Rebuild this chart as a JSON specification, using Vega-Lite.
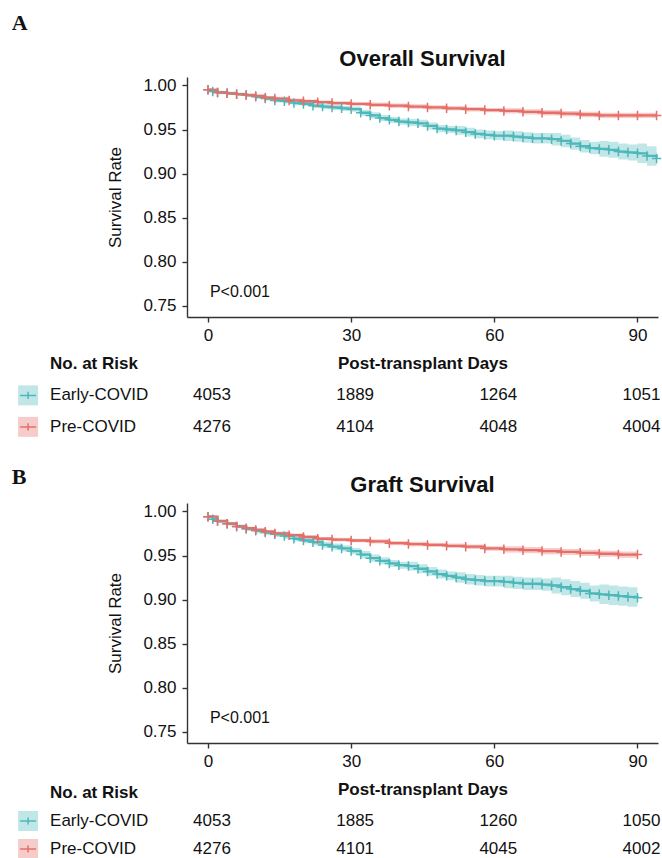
{
  "$schema": "https://vega.github.io/schema/vega-lite/v6.json",
  "padding": {"left": 11, "top": 12, "right": 0, "bottom": 0},
  "background": "white",
  "config": {
    "view": {"stroke": null},
    "font": "Liberation Sans",
    "axis": {"grid": false, "domainColor": "#333", "tickColor": "#333", "labelColor": "#111", "titleColor": "#111", "labelFontSize": 17, "titleFontSize": 17, "domainWidth": 1.4, "tickWidth": 1.4, "tickSize": 5}
  },
  "datasets": {
    "curves": [
      {"p":"A","g":"Early-COVID","d":0,"s":0.995,"lo":0.993,"hi":0.997},
      {"p":"A","g":"Early-COVID","d":1,"s":0.993,"lo":0.991,"hi":0.995},
      {"p":"A","g":"Early-COVID","d":2,"s":0.992,"lo":0.990,"hi":0.994},
      {"p":"A","g":"Early-COVID","d":4,"s":0.991,"lo":0.989,"hi":0.993},
      {"p":"A","g":"Early-COVID","d":6,"s":0.990,"lo":0.988,"hi":0.992},
      {"p":"A","g":"Early-COVID","d":8,"s":0.989,"lo":0.987,"hi":0.991},
      {"p":"A","g":"Early-COVID","d":10,"s":0.987,"lo":0.9845,"hi":0.9895},
      {"p":"A","g":"Early-COVID","d":12,"s":0.985,"lo":0.9825,"hi":0.9875},
      {"p":"A","g":"Early-COVID","d":14,"s":0.983,"lo":0.9805,"hi":0.9855},
      {"p":"A","g":"Early-COVID","d":16,"s":0.982,"lo":0.9795,"hi":0.9845},
      {"p":"A","g":"Early-COVID","d":18,"s":0.980,"lo":0.9775,"hi":0.9825},
      {"p":"A","g":"Early-COVID","d":20,"s":0.979,"lo":0.9765,"hi":0.9815},
      {"p":"A","g":"Early-COVID","d":22,"s":0.977,"lo":0.974,"hi":0.980},
      {"p":"A","g":"Early-COVID","d":24,"s":0.976,"lo":0.973,"hi":0.979},
      {"p":"A","g":"Early-COVID","d":26,"s":0.975,"lo":0.972,"hi":0.978},
      {"p":"A","g":"Early-COVID","d":28,"s":0.974,"lo":0.971,"hi":0.977},
      {"p":"A","g":"Early-COVID","d":30,"s":0.973,"lo":0.970,"hi":0.976},
      {"p":"A","g":"Early-COVID","d":32,"s":0.969,"lo":0.9655,"hi":0.9725},
      {"p":"A","g":"Early-COVID","d":34,"s":0.966,"lo":0.9625,"hi":0.9695},
      {"p":"A","g":"Early-COVID","d":36,"s":0.963,"lo":0.9595,"hi":0.9665},
      {"p":"A","g":"Early-COVID","d":38,"s":0.961,"lo":0.9575,"hi":0.9645},
      {"p":"A","g":"Early-COVID","d":40,"s":0.959,"lo":0.9555,"hi":0.9625},
      {"p":"A","g":"Early-COVID","d":42,"s":0.958,"lo":0.954,"hi":0.962},
      {"p":"A","g":"Early-COVID","d":44,"s":0.957,"lo":0.953,"hi":0.961},
      {"p":"A","g":"Early-COVID","d":46,"s":0.954,"lo":0.950,"hi":0.958},
      {"p":"A","g":"Early-COVID","d":48,"s":0.951,"lo":0.947,"hi":0.955},
      {"p":"A","g":"Early-COVID","d":50,"s":0.950,"lo":0.946,"hi":0.954},
      {"p":"A","g":"Early-COVID","d":52,"s":0.949,"lo":0.944,"hi":0.954},
      {"p":"A","g":"Early-COVID","d":54,"s":0.947,"lo":0.942,"hi":0.952},
      {"p":"A","g":"Early-COVID","d":56,"s":0.945,"lo":0.940,"hi":0.950},
      {"p":"A","g":"Early-COVID","d":58,"s":0.944,"lo":0.939,"hi":0.949},
      {"p":"A","g":"Early-COVID","d":60,"s":0.943,"lo":0.938,"hi":0.948},
      {"p":"A","g":"Early-COVID","d":62,"s":0.943,"lo":0.937,"hi":0.949},
      {"p":"A","g":"Early-COVID","d":64,"s":0.942,"lo":0.936,"hi":0.948},
      {"p":"A","g":"Early-COVID","d":66,"s":0.941,"lo":0.935,"hi":0.947},
      {"p":"A","g":"Early-COVID","d":68,"s":0.940,"lo":0.934,"hi":0.946},
      {"p":"A","g":"Early-COVID","d":70,"s":0.940,"lo":0.934,"hi":0.946},
      {"p":"A","g":"Early-COVID","d":72,"s":0.939,"lo":0.932,"hi":0.946},
      {"p":"A","g":"Early-COVID","d":74,"s":0.937,"lo":0.930,"hi":0.944},
      {"p":"A","g":"Early-COVID","d":76,"s":0.934,"lo":0.927,"hi":0.941},
      {"p":"A","g":"Early-COVID","d":78,"s":0.931,"lo":0.924,"hi":0.938},
      {"p":"A","g":"Early-COVID","d":80,"s":0.929,"lo":0.922,"hi":0.936},
      {"p":"A","g":"Early-COVID","d":82,"s":0.928,"lo":0.919,"hi":0.937},
      {"p":"A","g":"Early-COVID","d":84,"s":0.927,"lo":0.918,"hi":0.936},
      {"p":"A","g":"Early-COVID","d":86,"s":0.925,"lo":0.916,"hi":0.934},
      {"p":"A","g":"Early-COVID","d":88,"s":0.924,"lo":0.915,"hi":0.933},
      {"p":"A","g":"Early-COVID","d":90,"s":0.923,"lo":0.912,"hi":0.934},
      {"p":"A","g":"Early-COVID","d":92,"s":0.920,"lo":0.909,"hi":0.931},
      {"p":"A","g":"Early-COVID","d":94,"s":0.917,"lo":0.906,"hi":0.928},
      {"p":"A","g":"Pre-COVID","d":0,"s":0.995,"lo":0.9935,"hi":0.9965},
      {"p":"A","g":"Pre-COVID","d":2,"s":0.992,"lo":0.9905,"hi":0.9935},
      {"p":"A","g":"Pre-COVID","d":4,"s":0.991,"lo":0.9895,"hi":0.9925},
      {"p":"A","g":"Pre-COVID","d":6,"s":0.990,"lo":0.9885,"hi":0.9915},
      {"p":"A","g":"Pre-COVID","d":8,"s":0.989,"lo":0.9875,"hi":0.9905},
      {"p":"A","g":"Pre-COVID","d":10,"s":0.988,"lo":0.9865,"hi":0.9895},
      {"p":"A","g":"Pre-COVID","d":12,"s":0.986,"lo":0.984,"hi":0.988},
      {"p":"A","g":"Pre-COVID","d":14,"s":0.985,"lo":0.983,"hi":0.987},
      {"p":"A","g":"Pre-COVID","d":17,"s":0.983,"lo":0.981,"hi":0.985},
      {"p":"A","g":"Pre-COVID","d":20,"s":0.982,"lo":0.980,"hi":0.984},
      {"p":"A","g":"Pre-COVID","d":23,"s":0.981,"lo":0.979,"hi":0.983},
      {"p":"A","g":"Pre-COVID","d":26,"s":0.980,"lo":0.978,"hi":0.982},
      {"p":"A","g":"Pre-COVID","d":30,"s":0.979,"lo":0.977,"hi":0.981},
      {"p":"A","g":"Pre-COVID","d":34,"s":0.978,"lo":0.9755,"hi":0.9805},
      {"p":"A","g":"Pre-COVID","d":38,"s":0.977,"lo":0.9745,"hi":0.9795},
      {"p":"A","g":"Pre-COVID","d":42,"s":0.976,"lo":0.9735,"hi":0.9785},
      {"p":"A","g":"Pre-COVID","d":46,"s":0.975,"lo":0.9725,"hi":0.9775},
      {"p":"A","g":"Pre-COVID","d":50,"s":0.974,"lo":0.9715,"hi":0.9765},
      {"p":"A","g":"Pre-COVID","d":54,"s":0.973,"lo":0.9705,"hi":0.9755},
      {"p":"A","g":"Pre-COVID","d":58,"s":0.972,"lo":0.9695,"hi":0.9745},
      {"p":"A","g":"Pre-COVID","d":62,"s":0.971,"lo":0.968,"hi":0.974},
      {"p":"A","g":"Pre-COVID","d":66,"s":0.970,"lo":0.967,"hi":0.973},
      {"p":"A","g":"Pre-COVID","d":70,"s":0.969,"lo":0.966,"hi":0.972},
      {"p":"A","g":"Pre-COVID","d":74,"s":0.968,"lo":0.965,"hi":0.971},
      {"p":"A","g":"Pre-COVID","d":78,"s":0.967,"lo":0.964,"hi":0.970},
      {"p":"A","g":"Pre-COVID","d":82,"s":0.966,"lo":0.963,"hi":0.969},
      {"p":"A","g":"Pre-COVID","d":86,"s":0.966,"lo":0.963,"hi":0.969},
      {"p":"A","g":"Pre-COVID","d":90,"s":0.966,"lo":0.963,"hi":0.969},
      {"p":"A","g":"Pre-COVID","d":94,"s":0.966,"lo":0.963,"hi":0.969},
      {"p":"B","g":"Early-COVID","d":0,"s":0.994,"lo":0.992,"hi":0.996},
      {"p":"B","g":"Early-COVID","d":1,"s":0.991,"lo":0.989,"hi":0.993},
      {"p":"B","g":"Early-COVID","d":2,"s":0.989,"lo":0.987,"hi":0.991},
      {"p":"B","g":"Early-COVID","d":4,"s":0.986,"lo":0.984,"hi":0.988},
      {"p":"B","g":"Early-COVID","d":6,"s":0.983,"lo":0.981,"hi":0.985},
      {"p":"B","g":"Early-COVID","d":8,"s":0.980,"lo":0.978,"hi":0.982},
      {"p":"B","g":"Early-COVID","d":10,"s":0.978,"lo":0.975,"hi":0.981},
      {"p":"B","g":"Early-COVID","d":12,"s":0.976,"lo":0.973,"hi":0.979},
      {"p":"B","g":"Early-COVID","d":14,"s":0.974,"lo":0.971,"hi":0.977},
      {"p":"B","g":"Early-COVID","d":16,"s":0.972,"lo":0.969,"hi":0.975},
      {"p":"B","g":"Early-COVID","d":18,"s":0.969,"lo":0.966,"hi":0.972},
      {"p":"B","g":"Early-COVID","d":20,"s":0.967,"lo":0.964,"hi":0.970},
      {"p":"B","g":"Early-COVID","d":22,"s":0.965,"lo":0.9615,"hi":0.9685},
      {"p":"B","g":"Early-COVID","d":24,"s":0.962,"lo":0.9585,"hi":0.9655},
      {"p":"B","g":"Early-COVID","d":26,"s":0.960,"lo":0.9565,"hi":0.9635},
      {"p":"B","g":"Early-COVID","d":28,"s":0.958,"lo":0.9545,"hi":0.9615},
      {"p":"B","g":"Early-COVID","d":30,"s":0.955,"lo":0.9515,"hi":0.9585},
      {"p":"B","g":"Early-COVID","d":32,"s":0.951,"lo":0.947,"hi":0.955},
      {"p":"B","g":"Early-COVID","d":34,"s":0.947,"lo":0.943,"hi":0.951},
      {"p":"B","g":"Early-COVID","d":36,"s":0.944,"lo":0.940,"hi":0.948},
      {"p":"B","g":"Early-COVID","d":38,"s":0.941,"lo":0.937,"hi":0.945},
      {"p":"B","g":"Early-COVID","d":40,"s":0.939,"lo":0.935,"hi":0.943},
      {"p":"B","g":"Early-COVID","d":42,"s":0.938,"lo":0.933,"hi":0.943},
      {"p":"B","g":"Early-COVID","d":44,"s":0.935,"lo":0.930,"hi":0.940},
      {"p":"B","g":"Early-COVID","d":46,"s":0.932,"lo":0.927,"hi":0.937},
      {"p":"B","g":"Early-COVID","d":48,"s":0.929,"lo":0.924,"hi":0.934},
      {"p":"B","g":"Early-COVID","d":50,"s":0.927,"lo":0.922,"hi":0.932},
      {"p":"B","g":"Early-COVID","d":52,"s":0.925,"lo":0.919,"hi":0.931},
      {"p":"B","g":"Early-COVID","d":54,"s":0.923,"lo":0.917,"hi":0.929},
      {"p":"B","g":"Early-COVID","d":56,"s":0.922,"lo":0.916,"hi":0.928},
      {"p":"B","g":"Early-COVID","d":58,"s":0.921,"lo":0.915,"hi":0.927},
      {"p":"B","g":"Early-COVID","d":60,"s":0.921,"lo":0.915,"hi":0.927},
      {"p":"B","g":"Early-COVID","d":62,"s":0.920,"lo":0.913,"hi":0.927},
      {"p":"B","g":"Early-COVID","d":64,"s":0.919,"lo":0.912,"hi":0.926},
      {"p":"B","g":"Early-COVID","d":66,"s":0.918,"lo":0.911,"hi":0.925},
      {"p":"B","g":"Early-COVID","d":68,"s":0.918,"lo":0.911,"hi":0.925},
      {"p":"B","g":"Early-COVID","d":70,"s":0.917,"lo":0.910,"hi":0.924},
      {"p":"B","g":"Early-COVID","d":72,"s":0.916,"lo":0.907,"hi":0.925},
      {"p":"B","g":"Early-COVID","d":74,"s":0.914,"lo":0.905,"hi":0.923},
      {"p":"B","g":"Early-COVID","d":76,"s":0.912,"lo":0.903,"hi":0.921},
      {"p":"B","g":"Early-COVID","d":78,"s":0.910,"lo":0.901,"hi":0.919},
      {"p":"B","g":"Early-COVID","d":80,"s":0.907,"lo":0.898,"hi":0.916},
      {"p":"B","g":"Early-COVID","d":82,"s":0.906,"lo":0.895,"hi":0.917},
      {"p":"B","g":"Early-COVID","d":84,"s":0.905,"lo":0.894,"hi":0.916},
      {"p":"B","g":"Early-COVID","d":86,"s":0.904,"lo":0.893,"hi":0.915},
      {"p":"B","g":"Early-COVID","d":88,"s":0.903,"lo":0.892,"hi":0.914},
      {"p":"B","g":"Early-COVID","d":90,"s":0.902,"lo":0.891,"hi":0.913},
      {"p":"B","g":"Pre-COVID","d":0,"s":0.994,"lo":0.9925,"hi":0.9955},
      {"p":"B","g":"Pre-COVID","d":2,"s":0.989,"lo":0.9875,"hi":0.9905},
      {"p":"B","g":"Pre-COVID","d":4,"s":0.986,"lo":0.9845,"hi":0.9875},
      {"p":"B","g":"Pre-COVID","d":6,"s":0.983,"lo":0.9815,"hi":0.9845},
      {"p":"B","g":"Pre-COVID","d":8,"s":0.981,"lo":0.9795,"hi":0.9825},
      {"p":"B","g":"Pre-COVID","d":10,"s":0.979,"lo":0.9775,"hi":0.9805},
      {"p":"B","g":"Pre-COVID","d":12,"s":0.977,"lo":0.975,"hi":0.979},
      {"p":"B","g":"Pre-COVID","d":14,"s":0.975,"lo":0.973,"hi":0.977},
      {"p":"B","g":"Pre-COVID","d":17,"s":0.973,"lo":0.971,"hi":0.975},
      {"p":"B","g":"Pre-COVID","d":20,"s":0.971,"lo":0.969,"hi":0.973},
      {"p":"B","g":"Pre-COVID","d":23,"s":0.969,"lo":0.967,"hi":0.971},
      {"p":"B","g":"Pre-COVID","d":26,"s":0.968,"lo":0.966,"hi":0.970},
      {"p":"B","g":"Pre-COVID","d":30,"s":0.967,"lo":0.965,"hi":0.969},
      {"p":"B","g":"Pre-COVID","d":34,"s":0.966,"lo":0.9635,"hi":0.9685},
      {"p":"B","g":"Pre-COVID","d":38,"s":0.964,"lo":0.9615,"hi":0.9665},
      {"p":"B","g":"Pre-COVID","d":42,"s":0.963,"lo":0.9605,"hi":0.9655},
      {"p":"B","g":"Pre-COVID","d":46,"s":0.962,"lo":0.9595,"hi":0.9645},
      {"p":"B","g":"Pre-COVID","d":50,"s":0.961,"lo":0.9585,"hi":0.9635},
      {"p":"B","g":"Pre-COVID","d":54,"s":0.960,"lo":0.9575,"hi":0.9625},
      {"p":"B","g":"Pre-COVID","d":58,"s":0.958,"lo":0.9555,"hi":0.9605},
      {"p":"B","g":"Pre-COVID","d":62,"s":0.957,"lo":0.9535,"hi":0.9605},
      {"p":"B","g":"Pre-COVID","d":66,"s":0.956,"lo":0.9525,"hi":0.9595},
      {"p":"B","g":"Pre-COVID","d":70,"s":0.955,"lo":0.9515,"hi":0.9585},
      {"p":"B","g":"Pre-COVID","d":74,"s":0.954,"lo":0.9505,"hi":0.9575},
      {"p":"B","g":"Pre-COVID","d":78,"s":0.953,"lo":0.9495,"hi":0.9565},
      {"p":"B","g":"Pre-COVID","d":82,"s":0.952,"lo":0.9485,"hi":0.9555},
      {"p":"B","g":"Pre-COVID","d":86,"s":0.951,"lo":0.9475,"hi":0.9545},
      {"p":"B","g":"Pre-COVID","d":90,"s":0.951,"lo":0.9475,"hi":0.9545}
    ],
    "risk": [
      {"p":"A","g":"Early-COVID","d":0,"n":4053},
      {"p":"A","g":"Early-COVID","d":30,"n":1889},
      {"p":"A","g":"Early-COVID","d":60,"n":1264},
      {"p":"A","g":"Early-COVID","d":90,"n":1051},
      {"p":"A","g":"Pre-COVID","d":0,"n":4276},
      {"p":"A","g":"Pre-COVID","d":30,"n":4104},
      {"p":"A","g":"Pre-COVID","d":60,"n":4048},
      {"p":"A","g":"Pre-COVID","d":90,"n":4004},
      {"p":"B","g":"Early-COVID","d":0,"n":4053},
      {"p":"B","g":"Early-COVID","d":30,"n":1885},
      {"p":"B","g":"Early-COVID","d":60,"n":1260},
      {"p":"B","g":"Early-COVID","d":90,"n":1050},
      {"p":"B","g":"Pre-COVID","d":0,"n":4276},
      {"p":"B","g":"Pre-COVID","d":30,"n":4101},
      {"p":"B","g":"Pre-COVID","d":60,"n":4045},
      {"p":"B","g":"Pre-COVID","d":90,"n":4002}
    ],
    "groups": [{"g":"Early-COVID"},{"g":"Pre-COVID"}]
  },
  "vconcat": [
    {
      "width": 471, "height": 240,
      "layer": [
        {"data": {"name": "curves"}, "transform": [{"filter": "datum.p === 'A'"}],
         "mark": {"type": "area", "interpolate": "step-after", "opacity": 0.35},
         "encoding": {
           "x": {"field": "d", "type": "quantitative", "scale": {"domain": [-4.4, 94.3], "nice": false, "zero": false},
                 "axis": {"values": [0, 30, 60, 90], "title": "Post-transplant Days", "titleFontWeight": "bold", "labelPadding": 5, "titlePadding": 12}},
           "y": {"field": "lo", "type": "quantitative", "scale": {"domain": [0.7375, 1.0095], "nice": false, "zero": false},
                 "axis": {"values": [0.75, 0.8, 0.85, 0.9, 0.95, 1.0], "format": ".2f", "title": "Survival Rate", "titleFontWeight": "normal", "labelPadding": 6, "titlePadding": 18}},
           "y2": {"field": "hi"},
           "color": {"field": "g", "type": "nominal", "scale": {"domain": ["Early-COVID", "Pre-COVID"], "range": ["#4DB8BA", "#E66E68"]}, "legend": null}
         }},
        {"data": {"name": "curves"}, "transform": [{"filter": "datum.p === 'A'"}],
         "mark": {"type": "line", "interpolate": "step-after", "strokeWidth": 2.3},
         "encoding": {"x": {"field": "d", "type": "quantitative"}, "y": {"field": "s", "type": "quantitative"}, "color": {"field": "g", "type": "nominal", "legend": null}}},
        {"data": {"name": "curves"}, "transform": [{"filter": "datum.p === 'A'"}],
         "mark": {"type": "point", "shape": "M-1,0L1,0M0,-1L0,1", "filled": false, "size": 90, "strokeWidth": 1.5, "opacity": 1},
         "encoding": {"x": {"field": "d", "type": "quantitative"}, "y": {"field": "s", "type": "quantitative"}, "color": {"field": "g", "type": "nominal", "legend": null}}},
        {"data": {"values": [{"t": "P<0.001"}]},
         "mark": {"type": "text", "align": "left", "baseline": "middle", "fontSize": 16, "color": "#111"},
         "encoding": {"x": {"datum": 0.4}, "y": {"datum": 0.7657}, "text": {"field": "t"}}},
        {"data": {"values": [{"t": "Overall Survival"}]},
         "mark": {"type": "text", "align": "center", "baseline": "middle", "fontSize": 22, "fontWeight": "bold", "color": "#111"},
         "encoding": {"x": {"datum": 44.95}, "y": {"datum": 1.0299}, "text": {"field": "t"}}},
        {"data": {"values": [{"t": "A"}]},
         "mark": {"type": "text", "align": "left", "baseline": "middle", "font": "Liberation Serif", "fontWeight": "bold", "fontSize": 22, "color": "#111"},
         "encoding": {"x": {"datum": -41.1}, "y": {"datum": 1.0707}, "text": {"field": "t"}}}
      ]
    },
    {
      "width": 471, "height": 126,
      "layer": [
        {"data": {"name": "risk"}, "transform": [{"filter": "datum.p === 'A'"}],
         "mark": {"type": "text", "fontSize": 17, "color": "#111", "baseline": "middle", "dx": 4},
         "encoding": {
           "x": {"field": "d", "type": "quantitative", "scale": {"domain": [-4.4, 94.3], "nice": false, "zero": false}, "axis": null},
           "y": {"field": "g", "type": "nominal", "scale": {"type": "point", "domain": ["No. at Risk", "Early-COVID", "Pre-COVID"], "padding": 1.291, "align": 0.268}, "axis": null},
           "text": {"field": "n"}
         }},
        {"data": {"name": "groups"},
         "mark": {"type": "point", "shape": "square", "filled": true, "size": 400, "opacity": 0.35},
         "encoding": {"x": {"datum": -37.7}, "y": {"field": "g", "type": "nominal"}, "color": {"field": "g", "type": "nominal", "legend": null}}},
        {"data": {"name": "groups"},
         "mark": {"type": "point", "shape": "M-1,0L1,0M0,-0.45L0,0.45", "filled": false, "size": 256, "strokeWidth": 1.5, "opacity": 1},
         "encoding": {"x": {"datum": -37.7}, "y": {"field": "g", "type": "nominal"}, "color": {"field": "g", "type": "nominal", "legend": null}}},
        {"data": {"name": "groups"},
         "mark": {"type": "text", "align": "left", "baseline": "middle", "fontSize": 17, "color": "#111"},
         "encoding": {"x": {"datum": -33.1}, "y": {"field": "g", "type": "nominal"}, "text": {"field": "g"}}},
        {"data": {"values": [{"t": "No. at Risk"}]},
         "mark": {"type": "text", "align": "left", "baseline": "middle", "fontSize": 17, "fontWeight": "bold", "color": "#111"},
         "encoding": {"x": {"datum": -33.1}, "y": {"datum": "No. at Risk"}, "text": {"field": "t"}}}
      ]
    },
    {
      "width": 471, "height": 240,
      "layer": [
        {"data": {"name": "curves"}, "transform": [{"filter": "datum.p === 'B'"}],
         "mark": {"type": "area", "interpolate": "step-after", "opacity": 0.35},
         "encoding": {
           "x": {"field": "d", "type": "quantitative", "scale": {"domain": [-4.4, 94.3], "nice": false, "zero": false},
                 "axis": {"values": [0, 30, 60, 90], "title": "Post-transplant Days", "titleFontWeight": "bold", "labelPadding": 5, "titlePadding": 12}},
           "y": {"field": "lo", "type": "quantitative", "scale": {"domain": [0.7375, 1.0095], "nice": false, "zero": false},
                 "axis": {"values": [0.75, 0.8, 0.85, 0.9, 0.95, 1.0], "format": ".2f", "title": "Survival Rate", "titleFontWeight": "normal", "labelPadding": 6, "titlePadding": 18}},
           "y2": {"field": "hi"},
           "color": {"field": "g", "type": "nominal", "scale": {"domain": ["Early-COVID", "Pre-COVID"], "range": ["#4DB8BA", "#E66E68"]}, "legend": null}
         }},
        {"data": {"name": "curves"}, "transform": [{"filter": "datum.p === 'B'"}],
         "mark": {"type": "line", "interpolate": "step-after", "strokeWidth": 2.3},
         "encoding": {"x": {"field": "d", "type": "quantitative"}, "y": {"field": "s", "type": "quantitative"}, "color": {"field": "g", "type": "nominal", "legend": null}}},
        {"data": {"name": "curves"}, "transform": [{"filter": "datum.p === 'B'"}],
         "mark": {"type": "point", "shape": "M-1,0L1,0M0,-1L0,1", "filled": false, "size": 90, "strokeWidth": 1.5, "opacity": 1},
         "encoding": {"x": {"field": "d", "type": "quantitative"}, "y": {"field": "s", "type": "quantitative"}, "color": {"field": "g", "type": "nominal", "legend": null}}},
        {"data": {"values": [{"t": "P<0.001"}]},
         "mark": {"type": "text", "align": "left", "baseline": "middle", "fontSize": 16, "color": "#111"},
         "encoding": {"x": {"datum": 0.4}, "y": {"datum": 0.7657}, "text": {"field": "t"}}},
        {"data": {"values": [{"t": "Graft Survival"}]},
         "mark": {"type": "text", "align": "center", "baseline": "middle", "fontSize": 22, "fontWeight": "bold", "color": "#111"},
         "encoding": {"x": {"datum": 44.95}, "y": {"datum": 1.0299}, "text": {"field": "t"}}},
        {"data": {"values": [{"t": "B"}]},
         "mark": {"type": "text", "align": "left", "baseline": "middle", "font": "Liberation Serif", "fontWeight": "bold", "fontSize": 22, "color": "#111"},
         "encoding": {"x": {"datum": -41.1}, "y": {"datum": 1.039}, "text": {"field": "t"}}}
      ]
    },
    {
      "width": 471, "height": 84,
      "layer": [
        {"data": {"name": "risk"}, "transform": [{"filter": "datum.p === 'B'"}],
         "mark": {"type": "text", "fontSize": 17, "color": "#111", "baseline": "middle", "dx": 4},
         "encoding": {
           "x": {"field": "d", "type": "quantitative", "scale": {"domain": [-4.4, 94.3], "nice": false, "zero": false}, "axis": null},
           "y": {"field": "g", "type": "nominal", "scale": {"type": "point", "domain": ["No. at Risk", "Early-COVID", "Pre-COVID"], "padding": 0.5, "align": 0.714}, "axis": null},
           "text": {"field": "n"}
         }},
        {"data": {"name": "groups"},
         "mark": {"type": "point", "shape": "square", "filled": true, "size": 400, "opacity": 0.35},
         "encoding": {"x": {"datum": -37.7}, "y": {"field": "g", "type": "nominal"}, "color": {"field": "g", "type": "nominal", "legend": null}}},
        {"data": {"name": "groups"},
         "mark": {"type": "point", "shape": "M-1,0L1,0M0,-0.45L0,0.45", "filled": false, "size": 256, "strokeWidth": 1.5, "opacity": 1},
         "encoding": {"x": {"datum": -37.7}, "y": {"field": "g", "type": "nominal"}, "color": {"field": "g", "type": "nominal", "legend": null}}},
        {"data": {"name": "groups"},
         "mark": {"type": "text", "align": "left", "baseline": "middle", "fontSize": 17, "color": "#111"},
         "encoding": {"x": {"datum": -33.1}, "y": {"field": "g", "type": "nominal"}, "text": {"field": "g"}}},
        {"data": {"values": [{"t": "No. at Risk"}]},
         "mark": {"type": "text", "align": "left", "baseline": "middle", "fontSize": 17, "fontWeight": "bold", "color": "#111"},
         "encoding": {"x": {"datum": -33.1}, "y": {"datum": "No. at Risk"}, "text": {"field": "t"}}}
      ]
    }
  ],
  "spacing": 30,
  "bounds": "flush",
  "resolve": {"scale": {"x": "independent", "y": "independent"}}
}
